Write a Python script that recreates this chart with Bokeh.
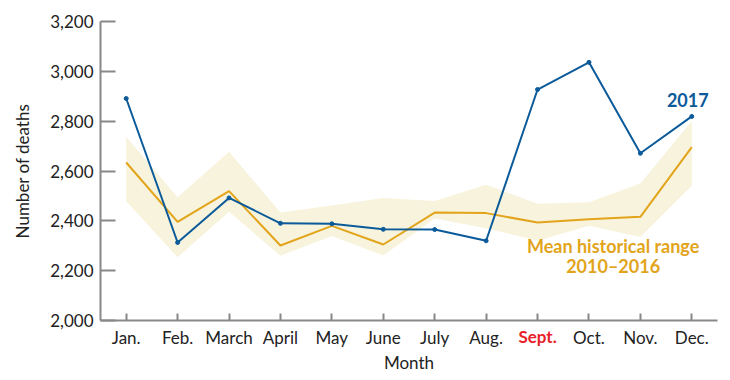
from bokeh.plotting import figure
from bokeh.models import FixedTicker, NumeralTickFormatter, Label, Range1d
from bokeh.embed import file_html
from bokeh.resources import INLINE

months = ["Jan.", "Feb.", "March", "April", "May", "June", "July", "Aug.", "Sept.", "Oct.", "Nov.", "Dec."]
deaths_2017 = [2891, 2313, 2492, 2390, 2388, 2366, 2365, 2320, 2927, 3036, 2671, 2819]
mean_hist = [2634, 2396, 2519, 2301, 2380, 2305, 2433, 2431, 2393, 2406, 2416, 2696]
range_low = [2479, 2254, 2436, 2260, 2339, 2261, 2409, 2370, 2320, 2380, 2335, 2541]
range_high = [2737, 2495, 2677, 2433, 2462, 2492, 2480, 2545, 2469, 2475, 2550, 2801]
y_ticks = [2000, 2200, 2400, 2600, 2800, 3000, 3200]

xs = list(range(len(months)))

BLUE = "#0B5A9A"
ORANGE = "#E2A41B"
BAND = "#F8F3DC"
FONT = "Lato"
TXT = "#222222"
AXIS = "#888888"

p = figure(width=730, height=380, output_backend="svg", toolbar_location=None,
           x_range=Range1d(-0.5, 11.5), y_range=Range1d(2000, 3200),
           min_border_left=100, min_border_right=13, min_border_top=17, min_border_bottom=60)
p.title.visible = False
p.outline_line_color = None
p.xgrid.visible = False
p.ygrid.visible = False
p.background_fill_color = "white"

p.varea(x=xs, y1=range_low, y2=range_high, fill_color=BAND)
p.line(xs, mean_hist, line_color=ORANGE, line_width=2)
p.line(xs, deaths_2017, line_color=BLUE, line_width=2)
p.scatter(xs, deaths_2017, size=4, fill_color=BLUE, line_color=BLUE)

# axes
p.xaxis.ticker = FixedTicker(ticks=xs)
overrides = {i: m for i, m in enumerate(months)}
overrides[8] = " "
p.xaxis.major_label_overrides = overrides
p.xaxis.axis_label = "Month"
p.yaxis.axis_label = "Number of deaths"
p.yaxis.ticker = FixedTicker(ticks=y_ticks)
p.yaxis.formatter = NumeralTickFormatter(format="0,0")

for ax in (p.xaxis[0], p.yaxis[0]):
    ax.axis_line_color = AXIS
    ax.axis_line_width = 2
    ax.major_tick_line_color = AXIS
    ax.major_tick_line_width = 2
    ax.minor_tick_line_color = None
    ax.major_tick_out = 0
    ax.major_label_text_font = FONT
    ax.major_label_text_font_size = "17px"
    ax.major_label_text_color = TXT
    ax.axis_label_text_font = FONT
    ax.axis_label_text_font_size = "17px"
    ax.axis_label_text_font_style = "normal"
    ax.axis_label_text_color = TXT

p.yaxis.major_tick_in = 15
p.yaxis.major_label_standoff = 7
p.yaxis.axis_label_standoff = 14
p.xaxis.major_tick_in = 7
p.xaxis.major_label_standoff = 6
p.xaxis.axis_label_standoff = 1

# red September tick label (placed in a side panel so it is not clipped to the frame)
p.add_layout(Label(x=8, y=2000, y_offset=-16, text=months[8], text_align="center",
                   text_baseline="middle", text_font=FONT, text_font_size="17px",
                   text_font_style="bold", text_color="#E8222B"),
             "above")

# annotations
p.add_layout(Label(x=11, y=deaths_2017[-1], y_offset=16, x_offset=-4, text="2017",
                   text_align="center", text_baseline="middle", text_font=FONT,
                   text_font_size="18px", text_font_style="bold", text_color=BLUE))
p.add_layout(Label(x=9.47, y=2301, text="Mean historical range",
                   text_align="center", text_baseline="middle", text_font=FONT,
                   text_font_size="18px", text_font_style="bold", text_color=ORANGE))
p.add_layout(Label(x=9.47, y=2218, text="2010\u20132016",
                   text_align="center", text_baseline="middle", text_font=FONT,
                   text_font_size="18px", text_font_style="bold", text_color=ORANGE))

open("out.html", "w").write(file_html(p, INLINE))
